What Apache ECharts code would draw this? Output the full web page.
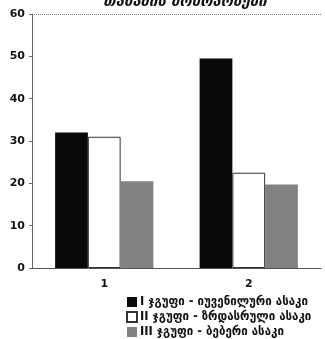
<!DOCTYPE html>
<html><head><meta charset="utf-8">
<script src="https://cdn.jsdelivr.net/npm/echarts@6/dist/echarts.min.js"></script>
<style>html,body{margin:0;padding:0;background:#fff}#c{width:325px;height:339px}</style>
</head><body><div id="c"></div>
<script>
const categories = ['1', '2'];
const seriesNames = ['I ჯგუფი - იუვენილური ასაკი', 'II ჯგუფი - ზრდასრული ასაკი', 'III ჯგუფი - ბებერი ასაკი'];
const group1 = [32, 49.5];
const group2 = [31, 22.5];
const group3 = [20.5, 19.7];
const yTicks = [0, 10, 20, 30, 40, 50, 60];
const title = 'თამაშის მოძრაობები';

const chart = echarts.init(document.getElementById('c'));
const font = 'DejaVu Sans';
chart.setOption({
  animation: false,
  textStyle: { fontFamily: font },
  title: { text: title, left: 180, top: -10, textAlign: 'center',
    textStyle: { fontFamily: font, fontSize: 15, fontStyle: 'italic', fontWeight: 'bold', color: '#111' } },
  grid: { left: 32, right: 4, top: 14, bottom: 71 },
  legend: {
    orient: 'vertical', left: 126, top: 296, height: 45, padding: 0, itemGap: 3, itemWidth: 10, itemHeight: 10,
    icon: 'rect',
    textStyle: { fontFamily: font, fontSize: 11.5, fontWeight: 'bold', color: '#111', padding: [0,0,0,-2] },
    data: seriesNames
  },
  xAxis: {
    type: 'category', data: categories,
    axisLine: { lineStyle: { color: '#555', width: 1 } },
    axisTick: { show: false },
    axisLabel: { color: '#111', fontSize: 11, fontWeight: 'bold', margin: 11 }
  },
  yAxis: {
    type: 'value', min: 0, max: 60, interval: 10,
    axisLine: { show: true, lineStyle: { color: '#666' } },
    axisTick: { show: true, inside: false, length: 3, lineStyle: { color: '#666' } },
    axisLabel: { color: '#111', fontSize: 11, fontWeight: 'bold', margin: 7,
      formatter: v => yTicks.includes(v) ? String(v) : '' },
    splitLine: { show: false }
  },
  series: [
    { name: seriesNames[0], type: 'bar', data: group1, barGap: '0%', barCategoryGap: '32%',
      itemStyle: { color: '#0a0a0a' },
      markLine: { silent: true, symbol: 'none', label: { show: false },
        lineStyle: { color: '#777', type: 'dotted', width: 1 }, data: [{ yAxis: 60 }] } },
    { name: seriesNames[1], type: 'bar', data: group2,
      itemStyle: { color: '#ffffff', borderColor: '#333', borderWidth: 1 } },
    { name: seriesNames[2], type: 'bar', data: group3,
      itemStyle: { color: '#828282' } }
  ]
});
</script></body></html>
